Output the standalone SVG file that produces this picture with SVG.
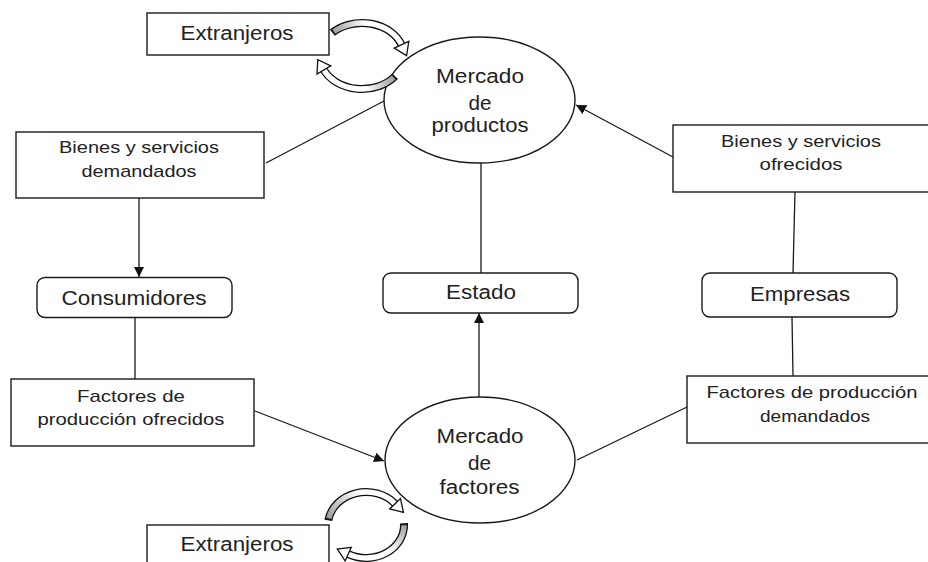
<svg xmlns="http://www.w3.org/2000/svg" width="928" height="562" viewBox="0 0 928 562">
<style>
.box{fill:#fff;stroke:#1a1a1a;stroke-width:1.4}
.ell{fill:#fff;stroke:#1a1a1a;stroke-width:1.4}
.ln{fill:none;stroke:#1a1a1a;stroke-width:1.3}
.t{font-family:"Liberation Sans",Arial,sans-serif;fill:#222;text-anchor:middle}
.s17{font-size:17px}
.s20{font-size:20px}
.bo{fill:none;stroke:#111;stroke-width:8}
.bi{fill:none;stroke-width:5.4}
.hd{fill:#fff;stroke:#111;stroke-width:1.3;stroke-linejoin:miter}
</style>
<defs>
<marker id="ah" viewBox="0 0 10 10" refX="10" refY="5" markerWidth="10" markerHeight="10" markerUnits="userSpaceOnUse" orient="auto"><path d="M0,0 L10,5 L0,10 z" fill="#111"/></marker>
<linearGradient id="g1" gradientUnits="userSpaceOnUse" x1="332" y1="33" x2="365" y2="22"><stop offset="0" stop-color="#9a9a9a"/><stop offset="1" stop-color="#fff"/></linearGradient>
<linearGradient id="g2" gradientUnits="userSpaceOnUse" x1="395" y1="76" x2="365" y2="89"><stop offset="0" stop-color="#9a9a9a"/><stop offset="1" stop-color="#fff"/></linearGradient>
<linearGradient id="g3" gradientUnits="userSpaceOnUse" x1="328" y1="520" x2="360" y2="492"><stop offset="0" stop-color="#9a9a9a"/><stop offset="1" stop-color="#fff"/></linearGradient>
<linearGradient id="g4" gradientUnits="userSpaceOnUse" x1="404" y1="523" x2="392" y2="552"><stop offset="0" stop-color="#9a9a9a"/><stop offset="1" stop-color="#fff"/></linearGradient>
</defs>
<rect width="928" height="562" fill="#fff"/>

<g id="connectors">
<line class="ln" x1="139" y1="198" x2="139" y2="277" marker-end="url(#ah)"/>
<line class="ln" x1="135" y1="317" x2="135" y2="379"/>
<line class="ln" x1="255" y1="411" x2="384" y2="461" marker-end="url(#ah)"/>
<line class="ln" x1="266" y1="163" x2="384" y2="101"/>
<line class="ln" x1="481" y1="163" x2="481" y2="273"/>
<line class="ln" x1="479" y1="397" x2="479" y2="313" marker-end="url(#ah)"/>
<line class="ln" x1="673" y1="157" x2="576" y2="105" marker-end="url(#ah)"/>
<line class="ln" x1="795" y1="192" x2="793" y2="273"/>
<line class="ln" x1="792" y1="317" x2="793" y2="376"/>
<line class="ln" x1="687" y1="407" x2="577" y2="460"/>
</g>

<g id="extranjeros-top"><rect class="box" x="147" y="13" width="182" height="42"/><text class="t s20" x="237" y="40" textLength="113" lengthAdjust="spacingAndGlyphs">Extranjeros</text></g>

<g id="mercado-productos"><ellipse class="ell" cx="479.5" cy="100" rx="95.5" ry="63"/>
<text class="t s20" x="480" y="83" textLength="88" lengthAdjust="spacingAndGlyphs">Mercado</text>
<text class="t s20" x="480" y="110" textLength="23" lengthAdjust="spacingAndGlyphs">de</text>
<text class="t s20" x="480" y="132" textLength="97" lengthAdjust="spacingAndGlyphs">productos</text></g>

<g id="bienes-demandados"><rect class="box" x="16" y="132" width="248" height="66"/>
<text class="t s17" x="139" y="153" textLength="160" lengthAdjust="spacingAndGlyphs">Bienes y servicios</text>
<text class="t s17" x="139" y="177" textLength="115" lengthAdjust="spacingAndGlyphs">demandados</text></g>

<g id="consumidores"><rect class="box" x="37" y="277.5" width="195" height="40" rx="8"/>
<text class="t s20" x="134" y="305" textLength="145" lengthAdjust="spacingAndGlyphs">Consumidores</text></g>

<g id="factores-ofrecidos"><rect class="box" x="11" y="379" width="243" height="67"/>
<text class="t s17" x="131" y="402" textLength="108" lengthAdjust="spacingAndGlyphs">Factores de</text>
<text class="t s17" x="131" y="425" textLength="187" lengthAdjust="spacingAndGlyphs">producción ofrecidos</text></g>

<g id="estado"><rect class="box" x="383" y="273" width="195" height="40" rx="8"/>
<text class="t s20" x="481" y="299" textLength="70" lengthAdjust="spacingAndGlyphs">Estado</text></g>

<g id="mercado-factores"><ellipse class="ell" cx="480" cy="460" rx="95" ry="63"/>
<text class="t s20" x="480" y="443" textLength="87" lengthAdjust="spacingAndGlyphs">Mercado</text>
<text class="t s20" x="479.5" y="470" textLength="23" lengthAdjust="spacingAndGlyphs">de</text>
<text class="t s20" x="479.5" y="494" textLength="80" lengthAdjust="spacingAndGlyphs">factores</text></g>

<g id="bienes-ofrecidos"><rect class="box" x="673" y="125" width="258" height="67"/>
<text class="t s17" x="801" y="147" textLength="160" lengthAdjust="spacingAndGlyphs">Bienes y servicios</text>
<text class="t s17" x="801" y="170" textLength="83" lengthAdjust="spacingAndGlyphs">ofrecidos</text></g>

<g id="empresas"><rect class="box" x="702" y="273" width="195" height="44" rx="8"/>
<text class="t s20" x="800" y="301" textLength="100" lengthAdjust="spacingAndGlyphs">Empresas</text></g>

<g id="factores-demandados"><rect class="box" x="687" y="376" width="258" height="67"/>
<text class="t s17" x="812" y="398" textLength="211" lengthAdjust="spacingAndGlyphs">Factores de producción</text>
<text class="t s17" x="815" y="422" textLength="110" lengthAdjust="spacingAndGlyphs">demandados</text></g>

<g id="extranjeros-bottom"><rect class="box" x="147" y="525" width="182" height="50"/>
<text class="t s20" x="237" y="551" textLength="113" lengthAdjust="spacingAndGlyphs">Extranjeros</text></g>

<g id="loops">
<path class="bo" d="M 332.3 32.7 A 42 33 0 0 1 401.5 44.7"/>
<path class="bi" stroke="url(#g1)" pathLength="100" stroke-dasharray="0 2.5 200" d="M 332.3 32.7 A 42 33 0 0 1 401.5 44.7"/>
<polygon class="hd" points="408.8,41.3 406.6,55.6 394.2,48.1"/>
<path class="bo" d="M 395.1 76.3 A 42 33 0 0 1 323.9 70"/>
<path class="bi" stroke="url(#g2)" pathLength="100" stroke-dasharray="0 2.5 200" d="M 395.1 76.3 A 42 33 0 0 1 323.9 70"/>
<polygon class="hd" points="330.8,65.9 317.8,59.7 317,74.1"/>
<path class="bo" d="M 328.4 520.4 A 38 33 0 0 1 395.1 503.8"/>
<path class="bi" stroke="url(#g3)" pathLength="100" stroke-dasharray="0 2.5 200" d="M 328.4 520.4 A 38 33 0 0 1 395.1 503.8"/>
<polygon class="hd" points="400.5,498.6 403.4,512.4 389.7,509"/>
<path class="bo" d="M 404 523.3 A 38 33 0 0 1 348.2 554.1"/>
<path class="bi" stroke="url(#g4)" pathLength="100" stroke-dasharray="0 2.5 200" d="M 404 523.3 A 38 33 0 0 1 348.2 554.1"/>
<polygon class="hd" points="351.3,547.3 337.3,549.1 345.1,560.9"/>
</g>
</svg>
